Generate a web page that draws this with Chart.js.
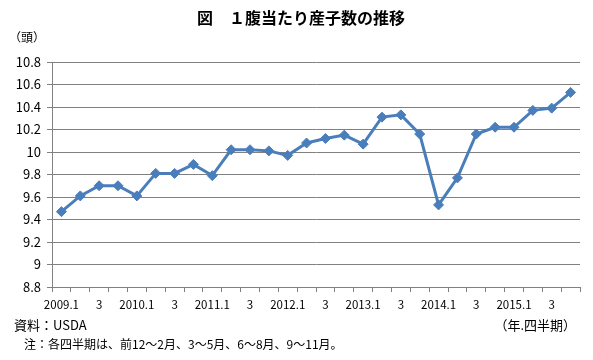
<!DOCTYPE html>
<html>
<head>
<meta charset="utf-8">
<script src="https://cdn.jsdelivr.net/npm/chart.js"></script>
<style>
  body { margin: 0; background: #fff; }
  #wrap { position: relative; width: 593px; height: 360px; font-family: "Noto Sans CJK JP", sans-serif; color: #000; }
  #wrap canvas { position: absolute; left: 0; top: 0; }
  .txt { position: absolute; white-space: nowrap; line-height: 1; }
</style>
</head>
<body>
<div id="wrap">
  <canvas id="myChart" width="593" height="360"></canvas>
  <div class="txt" style="left:0;width:602px;text-align:center;top:9px;font-size:16px;font-weight:bold;">図　１腹当たり産子数の推移</div>
  <div class="txt" style="left:9px;top:31px;font-size:12px;">（頭）</div>
  <div class="txt" style="left:14px;top:318px;font-size:13px;">資料：USDA</div>
  <div class="txt" style="right:17px;top:318px;font-size:13px;">（年.四半期）</div>
  <div class="txt" style="left:24px;top:338px;font-size:12px;">注：各四半期は、前12～2月、3～5月、6～8月、9～11月。</div>
</div>
<script>
// quarterly labels, only Q1 and Q3 are shown
const quarters = [
  '2009.1', '', '3', '',
  '2010.1', '', '3', '',
  '2011.1', '', '3', '',
  '2012.1', '', '3', '',
  '2013.1', '', '3', '',
  '2014.1', '', '3', '',
  '2015.1', '', '3', ''
];
// pigs per litter
const litter = [
  9.47, 9.61, 9.70, 9.70,
  9.61, 9.81, 9.81, 9.89,
  9.79, 10.02, 10.02, 10.01,
  9.97, 10.08, 10.12, 10.15,
  10.07, 10.31, 10.33, 10.16,
  9.53, 9.77, 10.16, 10.22,
  10.22, 10.37, 10.39, 10.53
];
const yTicks = [8.8, 9, 9.2, 9.4, 9.6, 9.8, 10, 10.2, 10.4, 10.6, 10.8];

const gridColor = '#808080';
const blue = '#4a7ebb';

const ctx = document.getElementById('myChart').getContext('2d');
const chart = new Chart(ctx, {
    type: 'line',
    data: {
        labels: quarters,
        datasets: [{
            data: litter,
            borderColor: blue,
            backgroundColor: blue,
            borderWidth: 3,
            pointStyle: 'rectRot',
            pointRadius: 5,
            pointBorderWidth: 1,
            tension: 0
        }]
    },
    options: {
        responsive: false,
        animation: false,
        layout: {
            padding: {top: 62, right: 13, left: 0, bottom: 0}
        },
        plugins: {
            legend: {display: false},
            tooltip: {enabled: false}
        },
        scales: {
            x: {
                offset: true,
                grid: {
                    offset: true,
                    drawOnChartArea: false,
                    drawTicks: true,
                    tickLength: 5,
                    color: gridColor
                },
                border: {color: gridColor, width: 1},
                ticks: {
                    autoSkip: false,
                    maxRotation: 0,
                    padding: 6,
                    color: '#000',
                    font: {family: 'Noto Sans CJK JP', size: 11.5}
                },
                afterFit: s => { s.height = 73; }
            },
            y: {
                min: 8.8,
                max: 10.8,
                afterBuildTicks: s => { s.ticks = yTicks.map(v => ({value: v})); },
                grid: {
                    color: gridColor,
                    tickLength: 5,
                    lineWidth: 1
                },
                border: {color: gridColor, width: 1},
                ticks: {
                    padding: 6,
                    color: '#000',
                    font: {family: 'Noto Sans CJK JP', size: 13},
                    callback: v => String(v)
                },
                afterFit: s => { s.width = 52; }
            }
        }
    }
});
</script>
</body>
</html>
